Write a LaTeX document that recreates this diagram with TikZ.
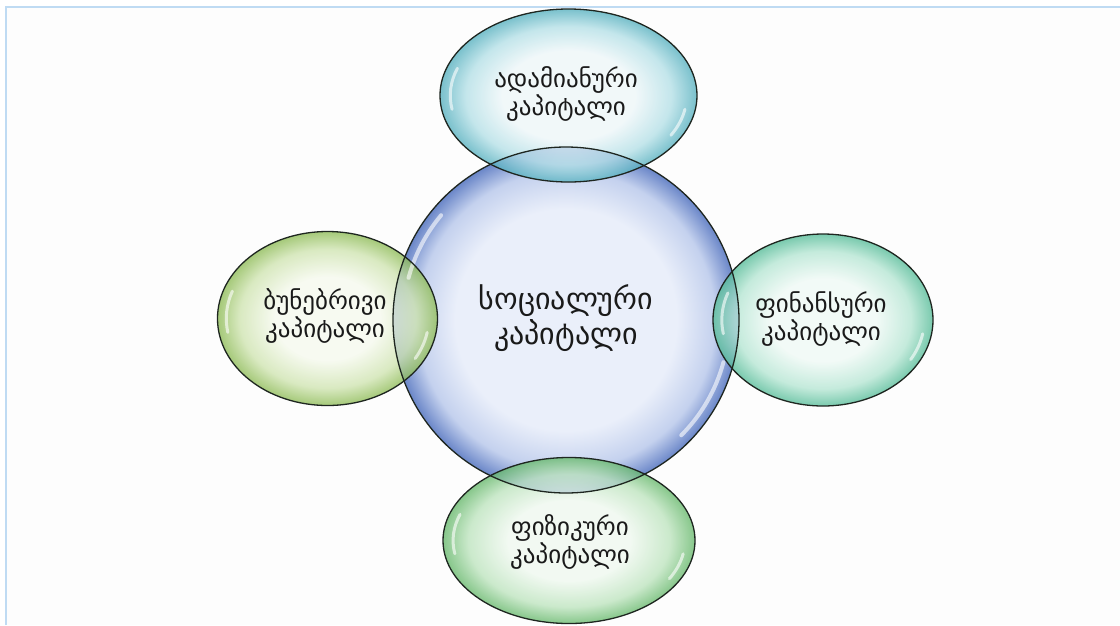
\documentclass[tikz,border=0pt]{standalone}
\usepackage{fontspec}
\newfontfamily\geo{DejaVu Sans}
\usetikzlibrary{shapes.geometric}
\definecolor{framecol}{HTML}{BFDBF3}
\definecolor{bgcol}{HTML}{FDFDFD}
\definecolor{outl}{HTML}{1E2620}
\definecolor{txt}{HTML}{1A1A1A}
% centre circle colours
\definecolor{sA}{HTML}{EAEFFA}
\definecolor{sB}{HTML}{C4D1EE}
\definecolor{sC}{HTML}{6A86C8}
% top (human)
\definecolor{hA}{HTML}{EEF7F9}
\definecolor{hB}{HTML}{B4E0E7}
\definecolor{hC}{HTML}{55B0BF}
% left (natural)
\definecolor{nA}{HTML}{F6FAEE}
\definecolor{nB}{HTML}{CFE4B0}
\definecolor{nC}{HTML}{8DBB55}
% right (financial)
\definecolor{fA}{HTML}{F0FAF6}
\definecolor{fB}{HTML}{B5E6D3}
\definecolor{fC}{HTML}{55BC98}
% bottom (physical)
\definecolor{pA}{HTML}{F0F9F0}
\definecolor{pB}{HTML}{BDE4BE}
\definecolor{pC}{HTML}{66B86B}
\pgfdeclareradialshading{bubS}{\pgfpoint{0bp}{0bp}}{color(0bp)=(sA); color(16bp)=(sA); color(21.5bp)=(sB); color(25bp)=(sC); color(50bp)=(sC)}
\pgfdeclareradialshading{bubH}{\pgfpoint{0bp}{0bp}}{color(0bp)=(hA); color(13bp)=(hA); color(20bp)=(hB); color(25bp)=(hC); color(50bp)=(hC)}
\pgfdeclareradialshading{bubN}{\pgfpoint{0bp}{0bp}}{color(0bp)=(nA); color(12bp)=(nA); color(20bp)=(nB); color(25bp)=(nC); color(50bp)=(nC)}
\pgfdeclareradialshading{bubF}{\pgfpoint{0bp}{0bp}}{color(0bp)=(fA); color(12bp)=(fA); color(20bp)=(fB); color(25bp)=(fC); color(50bp)=(fC)}
\pgfdeclareradialshading{bubP}{\pgfpoint{0bp}{0bp}}{color(0bp)=(pA); color(12bp)=(pA); color(20bp)=(pB); color(25bp)=(pC); color(50bp)=(pC)}
\tikzset{
  bubfill/.style={fill opacity=0.78},
  bubline/.style={draw=outl, line width=1.3pt},
  gloss/.style={draw=white, line width=4pt, opacity=0.6, line cap=round},
  lbl/.style={font=\geo\fontsize{25}{28}\selectfont, align=center, text=txt},
  biglbl/.style={font=\geo\fontsize{30}{35}\selectfont, align=center, text=txt}
}
\begin{document}
\begin{tikzpicture}[x=1pt,y=-1pt]
\useasboundingbox (0,0) rectangle (1120,625);
\fill[white] (0,0) rectangle (1120,625);
\fill[bgcol] (6,7) rectangle (1120,625);
\draw[framecol, line width=2pt] (6,625) -- (6,7) -- (1120,7);
% centres
\coordinate (cS) at (566,320);
\coordinate (cH) at (568.5,95.5);
\coordinate (cN) at (327.5,318.5);
\coordinate (cF) at (823,320);
\coordinate (cP) at (569,540.5);
% fills
\path[shading=bubS] (cS) circle [radius=173pt];
\path[shading=bubH, bubfill] (cH) ellipse [x radius=128.5pt, y radius=86.5pt];
\path[shading=bubN, bubfill] (cN) ellipse [x radius=110pt, y radius=87pt];
\path[shading=bubF, bubfill] (cF) ellipse [x radius=110pt, y radius=86pt];
\path[shading=bubP, bubfill] (cP) ellipse [x radius=126pt, y radius=83pt];
% gloss highlights
\draw[gloss] ([shift={(140:163pt)}]cS) arc [start angle=140, end angle=165, radius=163pt];
\draw[gloss] ([shift={(-15:163pt)}]cS) arc [start angle=-15, end angle=-45, radius=163pt];
\foreach \c/\rx/\ry in {cH/128.5/86.5, cN/110/87, cF/110/86, cP/126/83}{
  \draw[gloss, line width=3pt] ([shift={(160:{\rx*0.92pt} and {\ry*0.92pt})}]\c) arc [start angle=160, end angle=190, x radius=\rx*0.92pt, y radius=\ry*0.92pt];
  \draw[gloss, line width=3pt] ([shift={(-10:{\rx*0.92pt} and {\ry*0.92pt})}]\c) arc [start angle=-10, end angle=-30, x radius=\rx*0.92pt, y radius=\ry*0.92pt];
}
% outlines
\draw[bubline] (cS) circle [radius=173pt];
\draw[bubline] (cH) ellipse [x radius=128.5pt, y radius=86.5pt];
\draw[bubline] (cN) ellipse [x radius=110pt, y radius=87pt];
\draw[bubline] (cF) ellipse [x radius=110pt, y radius=86pt];
\draw[bubline] (cP) ellipse [x radius=126pt, y radius=83pt];
% labels
\node[biglbl] (tS) at (566,318) {სოციალური\\კაპიტალი};
\node[lbl] (tH) at (566,94) {ადამიანური\\კაპიტალი};
\node[lbl] (tN) at (325,316) {ბუნებრივი\\კაპიტალი};
\node[lbl] (tF) at (821,319) {ფინანსური\\კაპიტალი};
\node[lbl] (tP) at (570,542) {ფიზიკური\\კაპიტალი};
\end{tikzpicture}
\end{document}
